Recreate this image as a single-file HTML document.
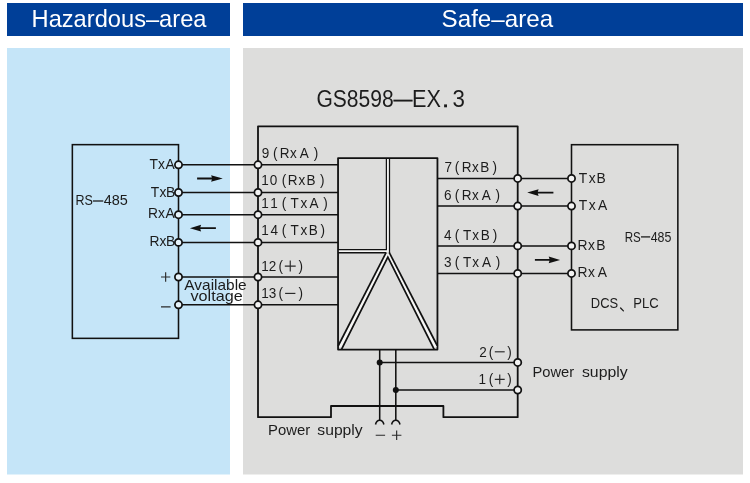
<!DOCTYPE html>
<html>
<head>
<meta charset="utf-8">
<title>GS8598-EX.3 wiring diagram</title>
<style>
  html, body { margin: 0; padding: 0; background: #ffffff; }
  body { width: 750px; height: 483px; overflow: hidden; font-family: "Liberation Sans", sans-serif; }
  svg { display: block; will-change: transform; }
  text { font-family: "Liberation Sans", sans-serif; fill: #1c1c1c; }
  .ln { stroke: #111111; stroke-width: 1.55; fill: none; stroke-linecap: butt; stroke-linejoin: miter; }
  .lk { stroke: #111111; stroke-width: 1.8; fill: none; stroke-linecap: butt; stroke-linejoin: round; }
  .ci { stroke: #111111; stroke-width: 1.75; fill: #f3f3f3; }
  .cb { fill: #e6f3fb; }
  .dot { fill: #111111; }
  .sym { stroke: #2a2a2a; stroke-width: 1.15; fill: none; }
</style>
</head>
<body>
<svg width="750" height="483" viewBox="0 0 750 483">
  <!-- backgrounds -->
  <rect x="0" y="0" width="750" height="483" fill="#ffffff"/>
  <rect x="7" y="3" width="223" height="33" fill="#003f98"/>
  <rect x="243" y="3" width="500" height="33" fill="#003f98"/>
  <rect x="7" y="48" width="223" height="426.5" fill="#c5e5f8"/>
  <rect x="243" y="48" width="500" height="426.5" fill="#dddddc"/>

  <g style="filter: blur(0.3px)">
  <!-- hazardous-area device box -->
  <rect class="ln" x="72.35" y="144.65" width="106.15" height="193.7"/>

  <!-- wires hazardous -> module -->
  <path class="ln" d="M178.5 164.8H338 M178.5 192.5H338 M178.5 214.7H338 M178.5 242.4H338 M178.5 277H338 M178.5 304.8H338"/>

  <!-- module outer outline with notch -->
  <path class="lk" d="M258 126.3H517.7V417.2H443.4V406H331V417.2H258Z"/>

  <!-- inner box -->
  <rect class="lk" x="338.05" y="158.05" width="99.4" height="191.5"/>

  <!-- double line divider (white gap) -->
  <g stroke="#f6f6f5" fill="none">
    <path d="M387.95 158.9V251.1H338.9" stroke-width="2"/>
    <path d="M387.1 254.2L340.0 346.9 M388.6 254.4L435.8 347.2" stroke-width="2.6"/>
  </g>
  <g stroke="#111111" stroke-width="1.4" fill="none" stroke-linejoin="miter">
    <path d="M386.4 158V249.5H338.05" stroke-width="1.25"/>
    <path d="M389.5 158V253" stroke-width="1.25"/>
    <path d="M338.05 252.7H386"/>
  </g>
  <g stroke="#111111" stroke-width="1.7" fill="none" stroke-linejoin="miter">
    <path d="M386.2 252.4L338.1 346"/>
    <path d="M389.3 252.6L437.45 346"/>
    <path d="M341.4 349.6L387.85 257.2L434.3 349.6"/>
  </g>

  <!-- right side wires -->
  <path class="ln" d="M437.4 178.45H571.5 M437.4 206.05H571.5 M437.4 245.9H571.5 M437.4 273.4H571.5"/>

  <!-- power wires -->
  <path class="ln" d="M379.7 349.6V420.4 M395.8 349.6V420.4 M379.7 362.4H517.7 M395.8 390H517.7"/>
  <path class="ln" d="M375.5 424.5C376.2 421.4 378 420.2 379.7 420.2C381.4 420.2 383.2 421.4 383.9 424.5"/>
  <path class="ln" d="M391.6 424.5C392.3 421.4 394.1 420.2 395.8 420.2C397.5 420.2 399.3 421.4 400 424.5"/>
  <circle class="dot" cx="379.7" cy="362.4" r="3"/>
  <circle class="dot" cx="395.8" cy="390" r="3"/>

  <!-- right device box -->
  <rect class="ln" x="571.5" y="144.7" width="106.35" height="185.2"/>

  <!-- terminals (circles) -->
  <g class="ci">
    <circle class="cb" cx="178.5" cy="164.8" r="3.6"/><circle class="cb" cx="178.5" cy="192.5" r="3.6"/>
    <circle class="cb" cx="178.5" cy="214.7" r="3.6"/><circle class="cb" cx="178.5" cy="242.4" r="3.6"/>
    <circle class="cb" cx="178.5" cy="277" r="3.6"/><circle class="cb" cx="178.5" cy="304.8" r="3.6"/>
    <circle cx="258" cy="164.8" r="3.6"/><circle cx="258" cy="192.5" r="3.6"/>
    <circle cx="258" cy="214.7" r="3.6"/><circle cx="258" cy="242.4" r="3.6"/>
    <circle cx="258" cy="277" r="3.6"/><circle cx="258" cy="304.8" r="3.6"/>
    <circle cx="517.7" cy="178.45" r="3.6"/><circle cx="517.7" cy="206.05" r="3.6"/>
    <circle cx="517.7" cy="245.9" r="3.6"/><circle cx="517.7" cy="273.4" r="3.6"/>
    <circle cx="517.7" cy="362.4" r="3.6"/><circle cx="517.7" cy="390" r="3.6"/>
    <circle cx="571.5" cy="178.45" r="3.6"/><circle cx="571.5" cy="206.05" r="3.6"/>
    <circle cx="571.5" cy="245.9" r="3.6"/><circle cx="571.5" cy="273.4" r="3.6"/>
  </g>

  <!-- arrows -->
  <g fill="#111111" stroke="none">
    <path d="M197.1 177.60H211.90L211.1 175.20L222.8 178.5L211.1 181.80L211.90 179.40H197.1Z"/>
    <path d="M215.9 227.25H200.30L201.1 224.85L189.9 228.15L201.1 231.45L200.30 229.05H215.9Z"/>
    <path d="M553.4 191.70H537.80L538.6 189.30L527.2 192.6L538.6 195.90L537.80 193.50H553.4Z"/>
    <path d="M534.9 259.00H549.50L548.7 256.60L560.1 259.9L548.7 263.20L549.50 260.80H534.9Z"/>
  </g>

  <!-- header labels -->
  <text x="31.56" y="26.7" font-size="24.4" textLength="174.94" lengthAdjust="spacingAndGlyphs" style="fill:#ffffff">Hazardous–area</text>
  <text x="441.60" y="26.5" font-size="24.4" textLength="111.50" lengthAdjust="spacingAndGlyphs" style="fill:#ffffff">Safe–area</text>
  <!-- title -->
  <text x="316.44" y="107.3" font-size="23.3" textLength="77.27" lengthAdjust="spacingAndGlyphs">GS8598</text>
  <line x1="393.4" y1="100.6" x2="412.6" y2="100.6" stroke="#1c1c1c" stroke-width="1.9"/>
  <text x="412.12" y="107.3" font-size="23.3" textLength="28.93" lengthAdjust="spacingAndGlyphs">EX</text>
  <rect x="444.1" y="104.4" width="2.9" height="2.9" fill="#1c1c1c"/>
  <text x="452.55" y="107.3" font-size="23.3" textLength="12.43" lengthAdjust="spacingAndGlyphs">3</text>
  <!-- hazardous-area device labels -->
  <text font-size="14.9" transform="scale(0.93 1)" x="160.72 169.93 177.83" y="168.8">TxA</text>
  <text font-size="14.9" transform="scale(0.93 1)" x="162.17 171.43 178.41" y="196.7">TxB</text>
  <text font-size="14.9" transform="scale(0.93 1)" x="159.09 169.93 177.83" y="218.4">RxA</text>
  <text font-size="14.9" transform="scale(0.93 1)" x="160.70 171.43 178.41" y="246.4">RxB</text>
  <text x="75.47" y="204.8" font-size="14.5" textLength="17.40" lengthAdjust="spacingAndGlyphs">RS</text>
  <line x1="92.9" y1="201" x2="103.3" y2="201" stroke="#1c1c1c" stroke-width="1.3"/>
  <text x="103.67" y="204.8" font-size="14.5" textLength="24.14" lengthAdjust="spacingAndGlyphs">485</text>
  <path class="sym" d="M161 277H170.3 M165.65 272.3V281.7 M161 306.9H170.6"/>
  <text x="184.37" y="289.8" font-size="14.6" textLength="62.31" lengthAdjust="spacingAndGlyphs">Available</text>
  <text x="190.54" y="301.1" font-size="14.6" textLength="52.17" lengthAdjust="spacingAndGlyphs">voltage</text>
  <!-- module terminal labels (per-glyph positioned) -->
  <text font-size="14.4" transform="scale(0.94 1)" x="278.55 290.34 297.58 308.52 318.97 333.75" y="158.2">9(RxA)</text>
  <text font-size="14.4" transform="scale(0.94 1)" x="277.93 286.95 299.64 306.09 317.57 326.16 340.40" y="185.5">10(RxB)</text>
  <text font-size="14.4" transform="scale(0.94 1)" x="277.93 287.61 299.75 308.96 319.59 329.40 344.02" y="207.6">11(TxA)</text>
  <text font-size="14.4" transform="scale(0.94 1)" x="277.93 287.90 299.75 308.96 319.59 328.34 340.99" y="235.5">14(TxB)</text>
  <text font-size="14.4" transform="scale(0.94 1)" x="277.93 285.89 296.35 317.53" y="270.9">12()</text>
  <path class="sym" d="M284.8 266.1H295.7 M290.25 260.6V271.5"/>
  <text font-size="14.4" transform="scale(0.94 1)" x="277.93 285.93 296.35 317.53" y="298.2">13()</text>
  <path class="sym" d="M285.1 293.4H295.4"/>
  <text font-size="14.4" transform="scale(0.94 1)" x="472.85 483.90 491.19 502.19 511.00 524.02" y="171.8">7(RxB)</text>
  <text font-size="14.4" transform="scale(0.94 1)" x="472.22 483.90 491.19 502.19 512.59 527.05" y="199.6">6(RxA)</text>
  <text font-size="14.4" transform="scale(0.94 1)" x="472.32 483.90 492.47 502.41 511.32 524.34" y="239.6">4(TxB)</text>
  <text font-size="14.4" transform="scale(0.94 1)" x="472.31 483.90 492.47 502.41 512.86 527.42" y="267.2">3(TxA)</text>
  <text font-size="14.4" transform="scale(0.94 1)" x="509.93 519.91 539.60" y="356.6">2()</text>
  <path class="sym" d="M494.8 351.8H504.7"/>
  <text font-size="14.4" transform="scale(0.94 1)" x="509.10 519.91 539.60" y="384.2">1()</text>
  <path class="sym" d="M494.8 379.4H504.7 M499.75 374.4V384.3"/>
  <!-- right device labels -->
  <text font-size="14.6" transform="scale(0.95 1)" x="609.28 619.71 627.97" y="182.6">TxB</text>
  <text font-size="14.6" transform="scale(0.95 1)" x="609.28 619.71 629.60" y="210.4">TxA</text>
  <text font-size="14.6" transform="scale(0.95 1)" x="607.78 619.03 627.60" y="250.2">RxB</text>
  <text font-size="14.6" transform="scale(0.95 1)" x="607.78 619.03 629.18" y="277.4">RxA</text>
  <text x="624.75" y="241.7" font-size="14.7" textLength="16.08" lengthAdjust="spacingAndGlyphs">RS</text>
  <line x1="641.0" y1="236.9" x2="650.2" y2="236.9" stroke="#1c1c1c" stroke-width="1.3"/>
  <text x="650.72" y="241.7" font-size="14.7" textLength="20.71" lengthAdjust="spacingAndGlyphs">485</text>
  <text x="590.84" y="307.7" font-size="14.7" textLength="27.25" lengthAdjust="spacingAndGlyphs">DCS</text>
  <path d="M620.6 308.0L623.4 310.9" stroke="#1c1c1c" stroke-width="1.3" fill="none" stroke-linecap="round"/>
  <text x="633.23" y="307.7" font-size="14.7" textLength="25.37" lengthAdjust="spacingAndGlyphs">PLC</text>
  <!-- power supply labels -->
  <text x="532.44" y="376.7" font-size="14.8" textLength="41.70" lengthAdjust="spacingAndGlyphs">Power</text>
  <text x="581.96" y="376.7" font-size="14.8" textLength="45.67" lengthAdjust="spacingAndGlyphs">supply</text>
  <text x="268.13" y="434.5" font-size="14.8" textLength="42.17" lengthAdjust="spacingAndGlyphs">Power</text>
  <text x="317.36" y="434.5" font-size="14.8" textLength="45.27" lengthAdjust="spacingAndGlyphs">supply</text>
  <path class="sym" d="M375.7 435.2H385.1 M391.9 435.2H401.4 M396.65 430.5V439.9"/>
  </g>
</svg>
</body>
</html>
